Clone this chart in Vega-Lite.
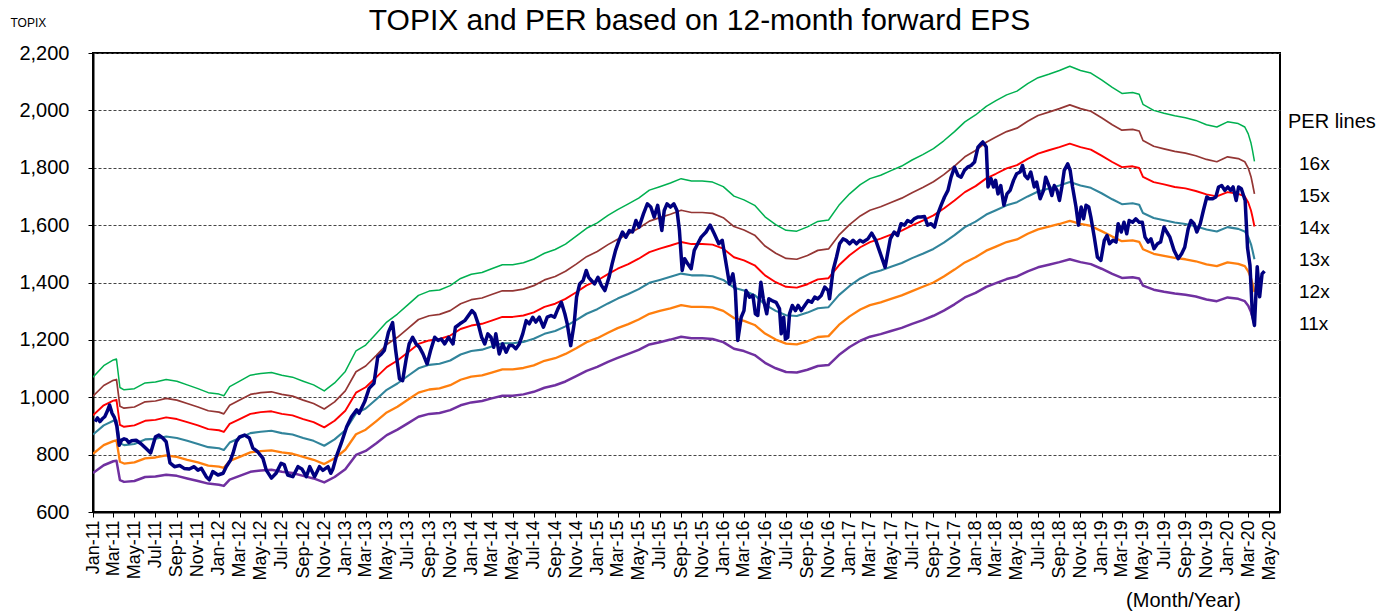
{
  "$schema": "https://vega.github.io/schema/vega-lite/v6.json",
  "width": 1187,
  "height": 459,
  "autosize": "none",
  "padding": {"left": 93, "top": 53, "right": 100, "bottom": 100},
  "background": "white",
  "config": {
    "font": "Liberation Sans",
    "view": {"stroke": "black", "strokeWidth": 2},
    "axis": {"labelColor": "black", "titleColor": "black", "domainColor": "black", "tickColor": "black", "labelFont": "Liberation Sans", "titleFont": "Liberation Sans"}
  },
  "title": {
    "text": "TOPIX and PER based on 12-month forward EPS",
    "font": "Liberation Sans",
    "fontSize": 30,
    "fontWeight": "normal",
    "color": "black",
    "anchor": "middle",
    "baseline": "alphabetic",
    "dx": 13,
    "dy": 28,
    "offset": -16
  },
  "datasets": {
    "per": [
      {"d":"2011-01-01","16x":1070,"15x":1004,"14x":937,"13x":870,"12x":803,"11x":736},
      {"d":"2011-02-01","16x":1110,"15x":1041,"14x":972,"13x":902,"12x":833,"11x":763},
      {"d":"2011-03-01","16x":1130,"15x":1059,"14x":988,"13x":918,"12x":847,"11x":777},
      {"d":"2011-03-10","16x":1133,"15x":1062,"14x":991,"13x":920,"12x":850,"11x":779},
      {"d":"2011-03-20","16x":1034,"15x":969,"14x":904,"13x":840,"12x":775,"11x":711},
      {"d":"2011-04-01","16x":1026,"15x":962,"14x":897,"13x":833,"12x":769,"11x":705},
      {"d":"2011-05-01","16x":1030,"15x":966,"14x":902,"13x":837,"12x":773,"11x":708},
      {"d":"2011-06-01","16x":1050,"15x":984,"14x":918,"13x":853,"12x":787,"11x":722},
      {"d":"2011-07-01","16x":1053,"15x":987,"14x":921,"13x":855,"12x":790,"11x":724},
      {"d":"2011-08-01","16x":1062,"15x":996,"14x":930,"13x":863,"12x":797,"11x":730},
      {"d":"2011-09-01","16x":1056,"15x":990,"14x":924,"13x":858,"12x":792,"11x":726},
      {"d":"2011-10-01","16x":1043,"15x":978,"14x":913,"13x":848,"12x":782,"11x":717},
      {"d":"2011-11-01","16x":1030,"15x":966,"14x":902,"13x":837,"12x":773,"11x":708},
      {"d":"2011-12-01","16x":1016,"15x":953,"14x":889,"13x":826,"12x":762,"11x":699},
      {"d":"2012-01-01","16x":1011,"15x":948,"14x":885,"13x":822,"12x":758,"11x":695},
      {"d":"2012-01-15","16x":1005,"15x":942,"14x":879,"13x":816,"12x":754,"11x":691},
      {"d":"2012-02-01","16x":1037,"15x":972,"14x":907,"13x":842,"12x":778,"11x":713},
      {"d":"2012-03-01","16x":1056,"15x":990,"14x":924,"13x":858,"12x":792,"11x":726},
      {"d":"2012-04-01","16x":1077,"15x":1010,"14x":942,"13x":875,"12x":808,"11x":740},
      {"d":"2012-05-01","16x":1083,"15x":1016,"14x":948,"13x":880,"12x":812,"11x":745},
      {"d":"2012-06-01","16x":1086,"15x":1019,"14x":951,"13x":883,"12x":815,"11x":747},
      {"d":"2012-07-01","16x":1077,"15x":1010,"14x":942,"13x":875,"12x":808,"11x":740},
      {"d":"2012-08-01","16x":1070,"15x":1004,"14x":937,"13x":870,"12x":803,"11x":736},
      {"d":"2012-09-01","16x":1056,"15x":990,"14x":924,"13x":858,"12x":792,"11x":726},
      {"d":"2012-10-01","16x":1043,"15x":978,"14x":913,"13x":848,"12x":782,"11x":717},
      {"d":"2012-11-01","16x":1022,"15x":959,"14x":895,"13x":831,"12x":767,"11x":703},
      {"d":"2012-12-01","16x":1050,"15x":984,"14x":918,"13x":853,"12x":787,"11x":722},
      {"d":"2013-01-01","16x":1090,"15x":1022,"14x":953,"13x":885,"12x":817,"11x":749},
      {"d":"2013-02-01","16x":1162,"15x":1089,"14x":1016,"13x":944,"12x":871,"11x":799},
      {"d":"2013-03-01","16x":1182,"15x":1109,"14x":1035,"13x":961,"12x":887,"11x":813},
      {"d":"2013-04-01","16x":1222,"15x":1146,"14x":1070,"13x":993,"12x":917,"11x":840},
      {"d":"2013-05-01","16x":1262,"15x":1184,"14x":1105,"13x":1026,"12x":947,"11x":868},
      {"d":"2013-06-01","16x":1290,"15x":1209,"14x":1128,"13x":1048,"12x":967,"11x":887},
      {"d":"2013-07-01","16x":1322,"15x":1239,"14x":1156,"13x":1074,"12x":991,"11x":909},
      {"d":"2013-08-01","16x":1355,"15x":1271,"14x":1186,"13x":1101,"12x":1016,"11x":932},
      {"d":"2013-09-01","16x":1370,"15x":1284,"14x":1198,"13x":1113,"12x":1027,"11x":942},
      {"d":"2013-10-01","16x":1374,"15x":1289,"14x":1203,"13x":1117,"12x":1031,"11x":945},
      {"d":"2013-11-01","16x":1389,"15x":1302,"14x":1215,"13x":1128,"12x":1042,"11x":955},
      {"d":"2013-12-01","16x":1414,"15x":1326,"14x":1238,"13x":1149,"12x":1061,"11x":972},
      {"d":"2014-01-01","16x":1429,"15x":1340,"14x":1250,"13x":1161,"12x":1072,"11x":982},
      {"d":"2014-02-01","16x":1435,"15x":1346,"14x":1256,"13x":1166,"12x":1076,"11x":987},
      {"d":"2014-03-01","16x":1448,"15x":1358,"14x":1267,"13x":1177,"12x":1086,"11x":996},
      {"d":"2014-04-01","16x":1462,"15x":1371,"14x":1280,"13x":1188,"12x":1097,"11x":1005},
      {"d":"2014-05-01","16x":1462,"15x":1371,"14x":1280,"13x":1188,"12x":1097,"11x":1005},
      {"d":"2014-06-01","16x":1469,"15x":1377,"14x":1285,"13x":1193,"12x":1102,"11x":1010},
      {"d":"2014-07-01","16x":1482,"15x":1389,"14x":1296,"13x":1204,"12x":1111,"11x":1019},
      {"d":"2014-08-01","16x":1502,"15x":1409,"14x":1315,"13x":1221,"12x":1127,"11x":1033},
      {"d":"2014-09-01","16x":1515,"15x":1421,"14x":1326,"13x":1231,"12x":1136,"11x":1042},
      {"d":"2014-10-01","16x":1534,"15x":1439,"14x":1343,"13x":1247,"12x":1151,"11x":1055},
      {"d":"2014-11-01","16x":1562,"15x":1464,"14x":1366,"13x":1269,"12x":1171,"11x":1074},
      {"d":"2014-12-01","16x":1589,"15x":1490,"14x":1390,"13x":1291,"12x":1192,"11x":1092},
      {"d":"2015-01-01","16x":1608,"15x":1508,"14x":1407,"13x":1307,"12x":1206,"11x":1106},
      {"d":"2015-02-01","16x":1634,"15x":1532,"14x":1429,"13x":1327,"12x":1225,"11x":1123},
      {"d":"2015-03-01","16x":1654,"15x":1551,"14x":1448,"13x":1344,"12x":1241,"11x":1137},
      {"d":"2015-04-01","16x":1674,"15x":1569,"14x":1464,"13x":1360,"12x":1255,"11x":1151},
      {"d":"2015-05-01","16x":1694,"15x":1589,"14x":1483,"13x":1377,"12x":1271,"11x":1165},
      {"d":"2015-06-01","16x":1722,"15x":1614,"14x":1506,"13x":1399,"12x":1291,"11x":1184},
      {"d":"2015-07-01","16x":1734,"15x":1626,"14x":1518,"13x":1409,"12x":1301,"11x":1192},
      {"d":"2015-08-01","16x":1747,"15x":1638,"14x":1529,"13x":1420,"12x":1310,"11x":1201},
      {"d":"2015-09-01","16x":1762,"15x":1652,"14x":1541,"13x":1431,"12x":1321,"11x":1211},
      {"d":"2015-10-01","16x":1754,"15x":1644,"14x":1534,"13x":1425,"12x":1315,"11x":1206},
      {"d":"2015-11-01","16x":1754,"15x":1644,"14x":1534,"13x":1425,"12x":1315,"11x":1206},
      {"d":"2015-12-01","16x":1750,"15x":1641,"14x":1532,"13x":1422,"12x":1313,"11x":1203},
      {"d":"2016-01-01","16x":1734,"15x":1626,"14x":1518,"13x":1409,"12x":1301,"11x":1192},
      {"d":"2016-02-01","16x":1701,"15x":1595,"14x":1488,"13x":1382,"12x":1276,"11x":1169},
      {"d":"2016-03-01","16x":1688,"15x":1583,"14x":1477,"13x":1372,"12x":1266,"11x":1161},
      {"d":"2016-04-01","16x":1669,"15x":1565,"14x":1460,"13x":1356,"12x":1252,"11x":1147},
      {"d":"2016-05-01","16x":1629,"15x":1527,"14x":1425,"13x":1323,"12x":1222,"11x":1120},
      {"d":"2016-06-01","16x":1602,"15x":1502,"14x":1401,"13x":1301,"12x":1201,"11x":1101},
      {"d":"2016-07-01","16x":1582,"15x":1484,"14x":1385,"13x":1286,"12x":1187,"11x":1088},
      {"d":"2016-08-01","16x":1579,"15x":1481,"14x":1382,"13x":1283,"12x":1184,"11x":1086},
      {"d":"2016-09-01","16x":1594,"15x":1494,"14x":1394,"13x":1295,"12x":1195,"11x":1096},
      {"d":"2016-10-01","16x":1613,"15x":1512,"14x":1411,"13x":1310,"12x":1210,"11x":1109},
      {"d":"2016-11-01","16x":1618,"15x":1517,"14x":1415,"13x":1314,"12x":1213,"11x":1112},
      {"d":"2016-12-01","16x":1669,"15x":1565,"14x":1460,"13x":1356,"12x":1252,"11x":1147},
      {"d":"2017-01-01","16x":1709,"15x":1602,"14x":1495,"13x":1388,"12x":1282,"11x":1175},
      {"d":"2017-02-01","16x":1741,"15x":1632,"14x":1523,"13x":1414,"12x":1306,"11x":1197},
      {"d":"2017-03-01","16x":1762,"15x":1652,"14x":1541,"13x":1431,"12x":1321,"11x":1211},
      {"d":"2017-04-01","16x":1774,"15x":1664,"14x":1553,"13x":1442,"12x":1331,"11x":1220},
      {"d":"2017-05-01","16x":1790,"15x":1679,"14x":1567,"13x":1455,"12x":1343,"11x":1231},
      {"d":"2017-06-01","16x":1806,"15x":1694,"14x":1581,"13x":1468,"12x":1355,"11x":1242},
      {"d":"2017-07-01","16x":1827,"15x":1713,"14x":1599,"13x":1485,"12x":1370,"11x":1256},
      {"d":"2017-08-01","16x":1846,"15x":1731,"14x":1616,"13x":1500,"12x":1385,"11x":1269},
      {"d":"2017-09-01","16x":1867,"15x":1751,"14x":1634,"13x":1517,"12x":1400,"11x":1284},
      {"d":"2017-10-01","16x":1894,"15x":1776,"14x":1658,"13x":1539,"12x":1421,"11x":1302},
      {"d":"2017-11-01","16x":1926,"15x":1806,"14x":1686,"13x":1565,"12x":1445,"11x":1324},
      {"d":"2017-12-01","16x":1960,"15x":1838,"14x":1715,"13x":1593,"12x":1470,"11x":1348},
      {"d":"2018-01-01","16x":1984,"15x":1860,"14x":1736,"13x":1612,"12x":1488,"11x":1364},
      {"d":"2018-02-01","16x":2014,"15x":1889,"14x":1763,"13x":1637,"12x":1511,"11x":1385},
      {"d":"2018-03-01","16x":2034,"15x":1907,"14x":1779,"13x":1652,"12x":1525,"11x":1398},
      {"d":"2018-04-01","16x":2054,"15x":1926,"14x":1798,"13x":1669,"12x":1541,"11x":1412},
      {"d":"2018-05-01","16x":2067,"15x":1938,"14x":1809,"13x":1680,"12x":1550,"11x":1421},
      {"d":"2018-06-01","16x":2093,"15x":1962,"14x":1831,"13x":1700,"12x":1570,"11x":1439},
      {"d":"2018-07-01","16x":2114,"15x":1982,"14x":1849,"13x":1717,"12x":1585,"11x":1453},
      {"d":"2018-08-01","16x":2126,"15x":1994,"14x":1861,"13x":1728,"12x":1595,"11x":1462},
      {"d":"2018-09-01","16x":2139,"15x":2006,"14x":1872,"13x":1738,"12x":1604,"11x":1471},
      {"d":"2018-10-01","16x":2154,"15x":2019,"14x":1884,"13x":1750,"12x":1615,"11x":1481},
      {"d":"2018-11-01","16x":2139,"15x":2006,"14x":1872,"13x":1738,"12x":1604,"11x":1471},
      {"d":"2018-12-01","16x":2130,"15x":1997,"14x":1863,"13x":1730,"12x":1597,"11x":1464},
      {"d":"2019-01-01","16x":2106,"15x":1974,"14x":1842,"13x":1711,"12x":1579,"11x":1448},
      {"d":"2019-02-01","16x":2080,"15x":1950,"14x":1820,"13x":1690,"12x":1560,"11x":1430},
      {"d":"2019-03-01","16x":2059,"15x":1931,"14x":1802,"13x":1673,"12x":1544,"11x":1416},
      {"d":"2019-04-01","16x":2062,"15x":1934,"14x":1805,"13x":1676,"12x":1547,"11x":1418},
      {"d":"2019-04-20","16x":2056,"15x":1928,"14x":1799,"13x":1671,"12x":1542,"11x":1414},
      {"d":"2019-05-01","16x":2021,"15x":1895,"14x":1768,"13x":1642,"12x":1516,"11x":1389},
      {"d":"2019-06-01","16x":2000,"15x":1875,"14x":1750,"13x":1625,"12x":1500,"11x":1375},
      {"d":"2019-07-01","16x":1990,"15x":1866,"14x":1742,"13x":1617,"12x":1493,"11x":1368},
      {"d":"2019-08-01","16x":1981,"15x":1857,"14x":1733,"13x":1609,"12x":1486,"11x":1362},
      {"d":"2019-09-01","16x":1974,"15x":1851,"14x":1728,"13x":1604,"12x":1481,"11x":1357},
      {"d":"2019-10-01","16x":1965,"15x":1842,"14x":1719,"13x":1596,"12x":1474,"11x":1351},
      {"d":"2019-11-01","16x":1950,"15x":1829,"14x":1707,"13x":1585,"12x":1463,"11x":1341},
      {"d":"2019-12-01","16x":1942,"15x":1821,"14x":1700,"13x":1578,"12x":1457,"11x":1335},
      {"d":"2020-01-01","16x":1960,"15x":1838,"14x":1715,"13x":1593,"12x":1470,"11x":1348},
      {"d":"2020-02-01","16x":1954,"15x":1832,"14x":1709,"13x":1587,"12x":1465,"11x":1343},
      {"d":"2020-02-20","16x":1942,"15x":1821,"14x":1700,"13x":1578,"12x":1457,"11x":1335},
      {"d":"2020-03-01","16x":1918,"15x":1799,"14x":1679,"13x":1559,"12x":1439,"11x":1319},
      {"d":"2020-03-09","16x":1886,"15x":1769,"14x":1651,"13x":1533,"12x":1415,"11x":1297},
      {"d":"2020-03-13","16x":1862,"15x":1746,"14x":1630,"13x":1513,"12x":1397,"11x":1280},
      {"d":"2020-03-19","16x":1822,"15x":1709,"14x":1595,"13x":1481,"12x":1367,"11x":1253}
    ],
    "topix": [
      {"d":"2011-01-07","v":915},{"d":"2011-01-14","v":928},{"d":"2011-01-21","v":915},{"d":"2011-01-28","v":925},
      {"d":"2011-02-04","v":932},{"d":"2011-02-11","v":950},{"d":"2011-02-18","v":973},{"d":"2011-02-25","v":945},
      {"d":"2011-03-04","v":930},{"d":"2011-03-11","v":900},{"d":"2011-03-18","v":833},{"d":"2011-03-25","v":851},
      {"d":"2011-04-01","v":855},{"d":"2011-04-08","v":852},{"d":"2011-04-15","v":842},{"d":"2011-04-22","v":848},
      {"d":"2011-05-06","v":850},{"d":"2011-05-20","v":838},{"d":"2011-06-03","v":822},{"d":"2011-06-17","v":806},
      {"d":"2011-07-01","v":862},{"d":"2011-07-11","v":868},{"d":"2011-07-22","v":858},{"d":"2011-08-01","v":845},
      {"d":"2011-08-12","v":771},{"d":"2011-08-25","v":758},{"d":"2011-09-09","v":762},{"d":"2011-09-22","v":752},
      {"d":"2011-10-07","v":750},{"d":"2011-10-21","v":758},{"d":"2011-11-01","v":746},{"d":"2011-11-11","v":752},
      {"d":"2011-11-25","v":723},{"d":"2011-12-04","v":712},{"d":"2011-12-14","v":741},{"d":"2011-12-29","v":729},
      {"d":"2012-01-13","v":735},{"d":"2012-01-22","v":758},{"d":"2012-02-03","v":780},{"d":"2012-02-11","v":806},
      {"d":"2012-02-20","v":845},{"d":"2012-03-01","v":862},{"d":"2012-03-15","v":868},{"d":"2012-03-29","v":858},
      {"d":"2012-04-08","v":823},{"d":"2012-04-22","v":810},{"d":"2012-05-07","v":788},{"d":"2012-05-17","v":746},
      {"d":"2012-06-01","v":718},{"d":"2012-06-15","v":736},{"d":"2012-06-29","v":770},{"d":"2012-07-08","v":765},
      {"d":"2012-07-18","v":729},{"d":"2012-08-02","v":723},{"d":"2012-08-17","v":758},{"d":"2012-08-28","v":750},
      {"d":"2012-09-10","v":723},{"d":"2012-09-20","v":758},{"d":"2012-10-04","v":723},{"d":"2012-10-18","v":758},
      {"d":"2012-10-28","v":745},{"d":"2012-11-12","v":758},{"d":"2012-11-20","v":735},{"d":"2012-11-26","v":750},
      {"d":"2012-12-06","v":793},{"d":"2012-12-20","v":839},{"d":"2013-01-05","v":897},{"d":"2013-01-19","v":932},
      {"d":"2013-02-03","v":956},{"d":"2013-02-10","v":944},{"d":"2013-02-26","v":984},{"d":"2013-03-11","v":1031},
      {"d":"2013-03-25","v":1049},{"d":"2013-04-05","v":1140},{"d":"2013-04-15","v":1150},{"d":"2013-04-24","v":1163},
      {"d":"2013-05-06","v":1227},{"d":"2013-05-18","v":1260},{"d":"2013-05-27","v":1163},{"d":"2013-06-07","v":1064},
      {"d":"2013-06-16","v":1058},{"d":"2013-06-26","v":1131},{"d":"2013-07-05","v":1186},{"d":"2013-07-15","v":1209},
      {"d":"2013-07-25","v":1186},{"d":"2013-08-04","v":1174},{"d":"2013-08-14","v":1151},{"d":"2013-08-26","v":1116},
      {"d":"2013-09-05","v":1163},{"d":"2013-09-17","v":1209},{"d":"2013-09-27","v":1198},{"d":"2013-10-06","v":1203},
      {"d":"2013-10-16","v":1186},{"d":"2013-10-27","v":1209},{"d":"2013-11-09","v":1186},{"d":"2013-11-16","v":1244},
      {"d":"2013-11-29","v":1256},{"d":"2013-12-13","v":1267},{"d":"2014-01-03","v":1302},{"d":"2014-01-11","v":1291},
      {"d":"2014-01-21","v":1256},{"d":"2014-01-31","v":1209},{"d":"2014-02-09","v":1186},{"d":"2014-02-18","v":1221},
      {"d":"2014-02-27","v":1209},{"d":"2014-03-07","v":1174},{"d":"2014-03-13","v":1221},{"d":"2014-03-23","v":1151},
      {"d":"2014-04-02","v":1186},{"d":"2014-04-12","v":1157},{"d":"2014-04-21","v":1180},{"d":"2014-05-01","v":1180},
      {"d":"2014-05-10","v":1169},{"d":"2014-05-20","v":1186},{"d":"2014-05-30","v":1221},{"d":"2014-06-09","v":1267},
      {"d":"2014-06-18","v":1256},{"d":"2014-06-28","v":1279},{"d":"2014-07-07","v":1262},{"d":"2014-07-17","v":1279},
      {"d":"2014-07-29","v":1244},{"d":"2014-08-09","v":1279},{"d":"2014-08-20","v":1285},{"d":"2014-08-30","v":1279},
      {"d":"2014-09-09","v":1308},{"d":"2014-09-19","v":1331},{"d":"2014-09-29","v":1291},{"d":"2014-10-06","v":1256},
      {"d":"2014-10-16","v":1180},{"d":"2014-10-26","v":1256},{"d":"2014-11-02","v":1349},{"d":"2014-11-11","v":1395},
      {"d":"2014-11-21","v":1407},{"d":"2014-11-30","v":1442},{"d":"2014-12-07","v":1418},{"d":"2014-12-15","v":1407},
      {"d":"2014-12-24","v":1395},{"d":"2015-01-03","v":1418},{"d":"2015-01-13","v":1390},{"d":"2015-01-23","v":1372},
      {"d":"2015-02-04","v":1418},{"d":"2015-02-13","v":1465},{"d":"2015-02-23","v":1512},{"d":"2015-03-05","v":1547},
      {"d":"2015-03-15","v":1576},{"d":"2015-03-25","v":1558},{"d":"2015-04-04","v":1581},{"d":"2015-04-13","v":1576},
      {"d":"2015-04-23","v":1616},{"d":"2015-05-02","v":1593},{"d":"2015-05-15","v":1640},{"d":"2015-05-26","v":1674},
      {"d":"2015-06-05","v":1663},{"d":"2015-06-15","v":1628},{"d":"2015-06-25","v":1669},{"d":"2015-07-07","v":1581},
      {"d":"2015-07-14","v":1651},{"d":"2015-07-22","v":1674},{"d":"2015-08-01","v":1663},{"d":"2015-08-11","v":1674},
      {"d":"2015-08-20","v":1651},{"d":"2015-08-27","v":1581},{"d":"2015-09-04","v":1442},{"d":"2015-09-11","v":1483},
      {"d":"2015-09-20","v":1465},{"d":"2015-09-30","v":1448},{"d":"2015-10-09","v":1512},{"d":"2015-10-19","v":1535},
      {"d":"2015-10-29","v":1558},{"d":"2015-11-12","v":1576},{"d":"2015-11-24","v":1600},{"d":"2015-12-06","v":1570},
      {"d":"2015-12-19","v":1535},{"d":"2015-12-29","v":1547},{"d":"2016-01-11","v":1453},{"d":"2016-01-19","v":1395},
      {"d":"2016-01-29","v":1430},{"d":"2016-02-05","v":1372},{"d":"2016-02-12","v":1198},{"d":"2016-02-22","v":1279},
      {"d":"2016-03-01","v":1302},{"d":"2016-03-07","v":1372},{"d":"2016-03-17","v":1349},{"d":"2016-03-27","v":1355},
      {"d":"2016-04-03","v":1291},{"d":"2016-04-10","v":1285},{"d":"2016-04-19","v":1401},{"d":"2016-04-26","v":1343},
      {"d":"2016-05-06","v":1291},{"d":"2016-05-12","v":1343},{"d":"2016-05-21","v":1337},{"d":"2016-06-02","v":1331},
      {"d":"2016-06-12","v":1308},{"d":"2016-06-17","v":1221},{"d":"2016-06-24","v":1279},{"d":"2016-06-29","v":1203},
      {"d":"2016-07-06","v":1209},{"d":"2016-07-11","v":1291},{"d":"2016-07-19","v":1320},{"d":"2016-07-28","v":1302},
      {"d":"2016-08-05","v":1320},{"d":"2016-08-14","v":1302},{"d":"2016-08-24","v":1320},{"d":"2016-09-03","v":1337},
      {"d":"2016-09-13","v":1331},{"d":"2016-09-22","v":1349},{"d":"2016-10-01","v":1343},{"d":"2016-10-11","v":1355},
      {"d":"2016-10-21","v":1384},{"d":"2016-10-31","v":1372},{"d":"2016-11-04","v":1343},{"d":"2016-11-14","v":1442},
      {"d":"2016-11-24","v":1488},{"d":"2016-12-03","v":1535},{"d":"2016-12-13","v":1552},{"d":"2016-12-22","v":1547},
      {"d":"2017-01-01","v":1535},{"d":"2017-01-11","v":1547},{"d":"2017-01-21","v":1535},{"d":"2017-01-31","v":1547},
      {"d":"2017-02-09","v":1541},{"d":"2017-02-23","v":1552},{"d":"2017-03-06","v":1572},{"d":"2017-03-18","v":1547},
      {"d":"2017-03-28","v":1512},{"d":"2017-04-07","v":1477},{"d":"2017-04-14","v":1453},{"d":"2017-04-21","v":1500},
      {"d":"2017-04-29","v":1552},{"d":"2017-05-10","v":1576},{"d":"2017-05-20","v":1564},{"d":"2017-05-30","v":1605},
      {"d":"2017-06-09","v":1600},{"d":"2017-06-18","v":1616},{"d":"2017-06-28","v":1610},{"d":"2017-07-07","v":1622},
      {"d":"2017-07-17","v":1628},{"d":"2017-07-27","v":1628},{"d":"2017-08-06","v":1630},{"d":"2017-08-15","v":1600},
      {"d":"2017-08-25","v":1605},{"d":"2017-09-04","v":1593},{"d":"2017-09-14","v":1640},{"d":"2017-09-23","v":1669},
      {"d":"2017-10-03","v":1698},{"d":"2017-10-13","v":1721},{"d":"2017-10-22","v":1767},{"d":"2017-11-01","v":1802},
      {"d":"2017-11-11","v":1773},{"d":"2017-11-20","v":1767},{"d":"2017-11-30","v":1791},{"d":"2017-12-09","v":1802},
      {"d":"2017-12-19","v":1808},{"d":"2017-12-29","v":1820},{"d":"2018-01-08","v":1872},{"d":"2018-01-17","v":1884},
      {"d":"2018-01-22","v":1890},{"d":"2018-02-01","v":1872},{"d":"2018-02-06","v":1733},{"d":"2018-02-15","v":1762},
      {"d":"2018-02-22","v":1733},{"d":"2018-02-28","v":1756},{"d":"2018-03-07","v":1709},{"d":"2018-03-15","v":1738},
      {"d":"2018-03-24","v":1669},{"d":"2018-04-02","v":1709},{"d":"2018-04-11","v":1721},{"d":"2018-04-21","v":1756},
      {"d":"2018-04-30","v":1779},{"d":"2018-05-10","v":1785},{"d":"2018-05-17","v":1808},{"d":"2018-05-24","v":1773},
      {"d":"2018-06-01","v":1762},{"d":"2018-06-10","v":1785},{"d":"2018-06-20","v":1733},{"d":"2018-06-27","v":1750},
      {"d":"2018-07-07","v":1692},{"d":"2018-07-17","v":1721},{"d":"2018-07-23","v":1767},{"d":"2018-08-03","v":1733},
      {"d":"2018-08-10","v":1703},{"d":"2018-08-17","v":1738},{"d":"2018-08-25","v":1721},{"d":"2018-09-01","v":1686},
      {"d":"2018-09-08","v":1733},{"d":"2018-09-15","v":1791},{"d":"2018-09-25","v":1814},{"d":"2018-10-02","v":1791},
      {"d":"2018-10-09","v":1733},{"d":"2018-10-19","v":1663},{"d":"2018-10-26","v":1600},{"d":"2018-11-03","v":1663},
      {"d":"2018-11-10","v":1622},{"d":"2018-11-17","v":1669},{"d":"2018-11-25","v":1663},{"d":"2018-12-01","v":1628},
      {"d":"2018-12-11","v":1558},{"d":"2018-12-20","v":1488},{"d":"2018-12-30","v":1477},{"d":"2019-01-09","v":1547},
      {"d":"2019-01-17","v":1564},{"d":"2019-01-24","v":1535},{"d":"2019-02-03","v":1547},{"d":"2019-02-12","v":1541},
      {"d":"2019-02-18","v":1605},{"d":"2019-02-27","v":1576},{"d":"2019-03-07","v":1610},{"d":"2019-03-15","v":1570},
      {"d":"2019-03-22","v":1616},{"d":"2019-04-01","v":1610},{"d":"2019-04-10","v":1622},{"d":"2019-04-20","v":1610},
      {"d":"2019-04-29","v":1610},{"d":"2019-05-07","v":1558},{"d":"2019-05-16","v":1541},{"d":"2019-05-24","v":1552},
      {"d":"2019-06-02","v":1518},{"d":"2019-06-12","v":1535},{"d":"2019-06-21","v":1541},{"d":"2019-07-01","v":1593},
      {"d":"2019-07-09","v":1576},{"d":"2019-07-18","v":1558},{"d":"2019-07-30","v":1512},{"d":"2019-08-11","v":1483},
      {"d":"2019-08-21","v":1500},{"d":"2019-08-30","v":1523},{"d":"2019-09-09","v":1587},{"d":"2019-09-17","v":1616},
      {"d":"2019-09-26","v":1605},{"d":"2019-10-04","v":1576},{"d":"2019-10-14","v":1605},{"d":"2019-10-23","v":1651},
      {"d":"2019-11-02","v":1698},{"d":"2019-11-09","v":1692},{"d":"2019-11-19","v":1692},{"d":"2019-11-28","v":1698},
      {"d":"2019-12-06","v":1733},{"d":"2019-12-15","v":1738},{"d":"2019-12-24","v":1721},{"d":"2020-01-02","v":1733},
      {"d":"2020-01-10","v":1721},{"d":"2020-01-17","v":1733},{"d":"2020-01-26","v":1686},{"d":"2020-02-02","v":1733},
      {"d":"2020-02-10","v":1727},{"d":"2020-02-21","v":1686},{"d":"2020-02-28","v":1520},{"d":"2020-03-06","v":1460},
      {"d":"2020-03-13","v":1290},{"d":"2020-03-19","v":1250},{"d":"2020-03-27","v":1455},{"d":"2020-04-03","v":1350},
      {"d":"2020-04-10","v":1430},{"d":"2020-04-17","v":1440}
    ]
  },
  "encoding": {
    "x": {
      "field": "d",
      "type": "temporal",
      "scale": {
        "type": "utc",
        "domain": [{"year": 2011, "month": 1, "date": 1, "utc": true}, {"year": 2020, "month": 6, "date": 1, "utc": true}],
        "nice": false
      },
      "axis": {
        "title": "(Month/Year)",
        "titleX": 1090,
        "titleY": 88,
        "titleAlign": "center",
        "titleBaseline": "middle",
        "titleFontSize": 20,
        "titleFontWeight": "normal",
        "format": "%b-%y",
        "tickCount": {"interval": "month", "step": 2},
        "labelAngle": -90,
        "labelFontSize": 18,
        "labelPadding": 3,
        "labelOverlap": false,
        "labelFlush": false,
        "labelBound": false,
        "grid": false,
        "tickSize": 5,
        "domainWidth": 2
      }
    },
    "y": {
      "field": "v",
      "type": "quantitative",
      "scale": {"domain": [600, 2200], "nice": false, "zero": false},
      "axis": {
        "title": "TOPIX",
        "titleAngle": 0,
        "titleX": -83,
        "titleY": -31,
        "titleAlign": "left",
        "titleBaseline": "middle",
        "titleFontSize": 12,
        "titleFontWeight": "normal",
        "values": [600, 800, 1000, 1200, 1400, 1600, 1800, 2000, 2200],
        "format": ",d",
        "labelFontSize": 20,
        "labelPadding": 19,
        "tickSize": 5,
        "domainWidth": 2,
        "grid": true,
        "gridDash": [3, 2],
        "gridColor": "#444444",
        "gridWidth": 1
      }
    }
  },
  "layer": [
    {
      "data": {"name": "per"},
      "transform": [{"fold": ["16x", "15x", "14x", "13x", "12x", "11x"], "as": ["per", "v"]}],
      "mark": {"type": "line", "strokeJoin": "round", "clip": true},
      "encoding": {
        "color": {
          "field": "per",
          "type": "nominal",
          "scale": {
            "domain": ["16x", "15x", "14x", "13x", "12x", "11x"],
            "range": ["#00B050", "#943634", "#FF0000", "#31849B", "#FF7F0E", "#7030A0"]
          },
          "legend": {
            "title": "PER lines",
            "orient": "none",
            "legendX": 1195,
            "legendY": 59,
            "padding": 0,
            "titleFont": "Liberation Sans",
            "titleFontSize": 20,
            "titleFontWeight": "normal",
            "titleColor": "black",
            "titleBaseline": "top",
            "titlePadding": 22,
            "labelFont": "Liberation Sans",
            "labelFontSize": 19,
            "labelColor": "black",
            "labelBaseline": "middle",
            "labelOffset": -8,
            "rowPadding": 12,
            "symbolType": "circle",
            "symbolSize": 0,
            "symbolOpacity": 0,
            "symbolStrokeWidth": 0
          }
        },
        "strokeWidth": {
          "field": "per",
          "type": "nominal",
          "scale": {"domain": ["16x", "15x", "14x", "13x", "12x", "11x"], "range": [1.5, 2.5, 2.5, 2.5, 1.5, 4]},
          "legend": null
        }
      }
    },
    {
      "data": {"name": "topix"},
      "mark": {"type": "line", "color": "#000080", "strokeWidth": 3.5, "strokeJoin": "round", "clip": true},
      "encoding": {}
    }
  ]
}
